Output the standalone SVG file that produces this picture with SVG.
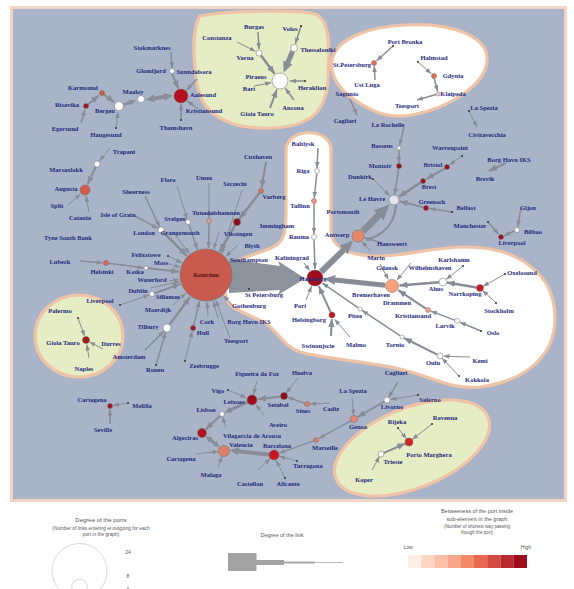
<svg xmlns="http://www.w3.org/2000/svg" width="574" height="589" viewBox="0 0 574 589">
<style>
.e{stroke:#878c96;fill:none}
.ma{marker-end:url(#a)}.mb{marker-end:url(#b)}.mc{marker-end:url(#c)}
.n{stroke:#6a6a6a;stroke-width:.5}
.w{fill:#ffffff}
.d{fill:#333}
.t{font-family:"Liberation Serif",serif;font-size:6.5px;font-weight:bold;fill:#1f2b80;text-anchor:middle}
.reg{stroke:#efc4a6;stroke-width:3.2}
.lg{font-family:"Liberation Sans",Arial,sans-serif;fill:#555;text-anchor:middle}
</style>
<defs>
<marker id="a" markerUnits="userSpaceOnUse" markerWidth="6" markerHeight="5" refX="6" refY="2.3" orient="auto"><path d="M0,0L6,2.3L0,4.6z" fill="#878c96"/></marker>
<marker id="b" markerUnits="userSpaceOnUse" markerWidth="8" markerHeight="7" refX="8" refY="3.2" orient="auto"><path d="M0,0L8,3.2L0,6.4z" fill="#878c96"/></marker>
<marker id="c" markerUnits="strokeWidth" markerWidth="2.3" markerHeight="2" refX="0.05" refY="1" orient="auto-start-reverse"><path d="M0,0L2.2,1L0,2z" fill="#878c96"/></marker>
</defs>
<rect x="0" y="0" width="574" height="589" fill="#ffffff"/>
<rect x="11.5" y="7.5" width="554" height="493" fill="#a9b4c8" stroke="#f2d5c4" stroke-width="3"/>
<g id="regions">
<path class="reg" fill="#e6ecc4" d="M200,16 C230,10 300,10 315,14 C330,20 330,45 328,80 C326,112 310,127 270,128 C240,129 218,122 205,105 C193,88 190,30 200,16 Z"/>
<path class="reg" fill="#ffffff" d="M332,60 C336,40 365,27 405,25 C455,22 490,38 487,62 C484,85 450,108 412,115 C385,120 365,108 348,95 C336,85 330,72 332,60 Z"/>
<path class="reg" fill="#ffffff" d="M286,150 C286,128 331,126 331,150 L331,230 C331,245 345,254 370,256 C400,258 430,247 465,247 C520,247 556,275 555,320 C554,360 520,382 480,387 C450,390 430,376 400,369 C370,362 320,358 300,352 C285,347 280,335 268,325 C255,316 235,312 228,302 C222,292 225,270 236,262 C248,254 268,252 278,244 C286,237 286,225 286,210 Z"/>
<ellipse class="reg" fill="#e6ecc4" cx="79" cy="336" rx="44" ry="41"/>
<ellipse class="reg" fill="#e6ecc4" cx="412" cy="448" rx="82" ry="40" transform="rotate(-22 412 448)"/>
</g>
<g id="connectors">
<line x1="171" y1="52" x2="172" y2="68" class="e ma" stroke-width="1.5"/>
<line x1="172" y1="73.5" x2="178.3" y2="88.5" class="e mb" stroke-width="2"/>
<line x1="197" y1="79" x2="186.5" y2="90.2" class="e ma" stroke-width="1.5"/>
<line x1="198" y1="109" x2="187.2" y2="101" class="e ma" stroke-width="1.5"/>
<line x1="181" y1="120" x2="181" y2="104" class="e ma" stroke-width="1.5"/>
<line x1="154.3" y1="98.4" x2="164.2" y2="96.8" class="e" stroke-width="4" marker-start="url(#c)" marker-end="url(#c)"/>
<line x1="123.3" y1="104.6" x2="129.9" y2="102.5" class="e mc" stroke-width="3"/>
<line x1="102" y1="93" x2="114.3" y2="102.3" class="e mb" stroke-width="2"/>
<line x1="86" y1="106" x2="98.9" y2="95.5" class="e mb" stroke-width="2"/>
<line x1="81" y1="123" x2="84.8" y2="109.8" class="e ma" stroke-width="1.5"/>
<line x1="116" y1="128" x2="118" y2="112" class="e ma" stroke-width="1"/>
<line x1="110" y1="148" x2="99.5" y2="160.9" class="e ma" stroke-width="1"/>
<line x1="95.7" y1="166.8" x2="87.5" y2="184.5" class="e mb" stroke-width="2"/>
<line x1="68" y1="205" x2="80.5" y2="194" class="e ma" stroke-width="1"/>
<line x1="89" y1="212" x2="86.1" y2="196" class="e ma" stroke-width="1"/>
<line x1="258" y1="32" x2="259" y2="49" class="e ma" stroke-width="1.5"/>
<line x1="237" y1="42" x2="255.4" y2="51.2" class="e ma" stroke-width="1"/>
<line x1="261" y1="55.5" x2="274.6" y2="73.8" class="e mb" stroke-width="2.5"/>
<line x1="301" y1="26" x2="295.4" y2="43.7" class="e ma" stroke-width="1.5"/>
<line x1="292.6" y1="51.3" x2="287.8" y2="62.6" class="e mc" stroke-width="5"/>
<line x1="254" y1="86" x2="271.2" y2="82.7" class="e ma" stroke-width="1"/>
<line x1="305" y1="81" x2="290" y2="81" class="e ma" stroke-width="1.5"/>
<line x1="270" y1="108" x2="276.9" y2="89.5" class="e mb" stroke-width="2"/>
<line x1="294" y1="100" x2="285.3" y2="88.3" class="e ma" stroke-width="1.5"/>
<line x1="393" y1="46" x2="376.6" y2="60.7" class="e ma" stroke-width="1.5"/>
<line x1="375" y1="80" x2="374.3" y2="66" class="e ma" stroke-width="1.5"/>
<line x1="418" y1="62" x2="431.4" y2="73.7" class="e ma" stroke-width="1"/>
<line x1="434.3" y1="78.5" x2="437.6" y2="91.5" class="e ma" stroke-width="1.5"/>
<line x1="436" y1="94.5" x2="417" y2="100" class="e ma" stroke-width="1.5"/>
<line x1="350" y1="99" x2="357" y2="115" class="e ma" stroke-width="1.5"/>
<line x1="469" y1="111" x2="477" y2="127" class="e ma" stroke-width="1"/>
<line x1="404" y1="127" x2="399.5" y2="145.5" class="e ma" stroke-width="1.5"/>
<line x1="399" y1="150" x2="399" y2="163" class="e ma" stroke-width="1.5"/>
<line x1="398.6" y1="168.5" x2="394.7" y2="194.5" class="e ma" stroke-width="1.5"/>
<line x1="373" y1="179" x2="389.7" y2="195.7" class="e ma" stroke-width="1"/>
<line x1="462" y1="156" x2="449.5" y2="165" class="e ma" stroke-width="1"/>
<line x1="444.8" y1="168.3" x2="426" y2="179.2" class="e mb" stroke-width="2"/>
<line x1="420.9" y1="182.4" x2="399" y2="196.7" class="e mb" stroke-width="2.5"/>
<line x1="452" y1="212" x2="429.5" y2="208.5" class="e ma" stroke-width="1.5"/>
<line x1="423.6" y1="207.4" x2="399.8" y2="201.4" class="e mb" stroke-width="2"/>
<path d="M396,205 Q394,232 366,240" class="e" stroke-width="2"/>
<line x1="362.6" y1="231.4" x2="378.8" y2="215.2" class="e mc" stroke-width="7"/>
<line x1="321" y1="272" x2="343.8" y2="249.8" class="e mc" stroke-width="6"/>
<line x1="382" y1="243" x2="364.3" y2="237.8" class="e ma" stroke-width="1.5"/>
<line x1="370" y1="251" x2="362" y2="241" class="e ma" stroke-width="1"/>
<line x1="506" y1="163" x2="489" y2="171" class="e mb" stroke-width="2"/>
<line x1="521" y1="208" x2="517.7" y2="226.5" class="e ma" stroke-width="1.5"/>
<line x1="514.5" y1="231" x2="504" y2="235.7" class="e ma" stroke-width="1.5"/>
<line x1="488" y1="222" x2="498.7" y2="234.3" class="e ma" stroke-width="1.5"/>
<line x1="145" y1="196" x2="159.7" y2="227.3" class="e ma" stroke-width="1.5"/>
<line x1="135" y1="216" x2="157.9" y2="228.4" class="e ma" stroke-width="1.5"/>
<line x1="163" y1="232" x2="186.8" y2="255.8" class="e mb" stroke-width="2.5"/>
<line x1="177" y1="186" x2="187.1" y2="219.1" class="e ma" stroke-width="1"/>
<line x1="189" y1="224.5" x2="197.4" y2="249.4" class="e ma" stroke-width="1.5"/>
<line x1="209" y1="183" x2="209" y2="218.5" class="e ma" stroke-width="1"/>
<line x1="209" y1="223.5" x2="208.5" y2="248" class="e ma" stroke-width="1.5"/>
<line x1="242" y1="190" x2="221.5" y2="254" class="e ma" stroke-width="1"/>
<line x1="266" y1="162" x2="261.5" y2="188" class="e mb" stroke-width="2"/>
<line x1="259.5" y1="193" x2="239.4" y2="218.8" class="e mb" stroke-width="2.5"/>
<line x1="235.2" y1="225" x2="219.5" y2="251.8" class="e mb" stroke-width="2.5"/>
<line x1="219" y1="232" x2="213.8" y2="249.1" class="e ma" stroke-width="1"/>
<line x1="238" y1="245" x2="225.7" y2="256.6" class="e ma" stroke-width="1"/>
<line x1="176" y1="236" x2="189.5" y2="253.7" class="e ma" stroke-width="1"/>
<line x1="80" y1="261" x2="102.5" y2="262.7" class="e ma" stroke-width="1.5"/>
<line x1="108.5" y1="263.3" x2="143.5" y2="267.7" class="e ma" stroke-width="1.5"/>
<line x1="148" y1="268.2" x2="179.3" y2="271.8" class="e mb" stroke-width="2"/>
<line x1="168" y1="256" x2="182" y2="262.9" class="e ma" stroke-width="1"/>
<line x1="169" y1="264" x2="180.1" y2="267.2" class="e ma" stroke-width="1"/>
<line x1="169" y1="281" x2="179.3" y2="279.3" class="e ma" stroke-width="1"/>
<line x1="150" y1="288" x2="179.8" y2="281.5" class="e ma" stroke-width="1"/>
<line x1="120" y1="305" x2="149.2" y2="295" class="e ma" stroke-width="1"/>
<line x1="154.4" y1="293.2" x2="180.6" y2="283.9" class="e mb" stroke-width="2"/>
<line x1="172" y1="306" x2="186" y2="293.1" class="e ma" stroke-width="1"/>
<line x1="145" y1="350" x2="163.8" y2="331.2" class="e ma" stroke-width="1.5"/>
<line x1="156" y1="365" x2="165.7" y2="332.3" class="e ma" stroke-width="1.5"/>
<line x1="169.4" y1="324.8" x2="190.1" y2="296.9" class="e mb" stroke-width="2.5"/>
<line x1="185" y1="361" x2="192.3" y2="331.3" class="e ma" stroke-width="1"/>
<line x1="193.6" y1="325.6" x2="199.5" y2="301.2" class="e ma" stroke-width="1.5"/>
<line x1="208" y1="316" x2="207" y2="302" class="e ma" stroke-width="1"/>
<line x1="218" y1="318" x2="213.3" y2="301" class="e ma" stroke-width="1"/>
<line x1="230" y1="338" x2="215.7" y2="300.2" class="e ma" stroke-width="1"/>
<line x1="232" y1="305" x2="223.6" y2="295.5" class="e ma" stroke-width="1"/>
<line x1="249" y1="289" x2="231.6" y2="283.4" class="e ma" stroke-width="1"/>
<path d="M229,259 L280,266 L278,261 L305,278.5 L278,295 L280,290 L229,293 Z" fill="#8d939c"/>
<line x1="318" y1="148" x2="317" y2="168" class="e ma" stroke-width="1.5"/>
<line x1="316.8" y1="174" x2="314.2" y2="198" class="e ma" stroke-width="1.5"/>
<line x1="314" y1="204" x2="314" y2="234" class="e ma" stroke-width="1.5"/>
<line x1="314" y1="240" x2="315" y2="269" class="e ma" stroke-width="1.5"/>
<line x1="304" y1="263" x2="309.7" y2="270.7" class="e ma" stroke-width="1"/>
<line x1="306" y1="300" x2="311.6" y2="286.3" class="e ma" stroke-width="1"/>
<line x1="330.7" y1="312.3" x2="318.8" y2="286.2" class="e mb" stroke-width="2"/>
<line x1="331" y1="336" x2="331.8" y2="319" class="e mb" stroke-width="2"/>
<line x1="350" y1="337" x2="334.5" y2="319.3" class="e ma" stroke-width="1"/>
<line x1="400" y1="335.6" x2="362" y2="310.3" class="e ma" stroke-width="1.5"/>
<line x1="358" y1="307.6" x2="322.4" y2="283.1" class="e ma" stroke-width="1.5"/>
<line x1="437.3" y1="354.7" x2="404" y2="338" class="e mb" stroke-width="2"/>
<line x1="470" y1="357" x2="443.5" y2="356.2" class="e ma" stroke-width="1"/>
<line x1="459" y1="376" x2="442.1" y2="358.2" class="e ma" stroke-width="1"/>
<line x1="481" y1="331" x2="460" y2="322.3" class="e ma" stroke-width="1.5"/>
<line x1="454.7" y1="320.1" x2="430.8" y2="311.1" class="e ma" stroke-width="1.5"/>
<line x1="425.9" y1="308.6" x2="398.2" y2="290.1" class="e mb" stroke-width="2"/>
<line x1="439" y1="282.3" x2="399.5" y2="285.4" class="e mb" stroke-width="2.5"/>
<line x1="476.5" y1="287.4" x2="447" y2="282.5" class="e mb" stroke-width="2.5"/>
<line x1="463" y1="266" x2="446.1" y2="279.5" class="e ma" stroke-width="1"/>
<line x1="505" y1="274" x2="483" y2="286.3" class="e ma" stroke-width="1"/>
<line x1="496" y1="303" x2="482.6" y2="290.4" class="e ma" stroke-width="1"/>
<line x1="411" y1="263" x2="396.8" y2="280.2" class="e ma" stroke-width="1"/>
<line x1="380" y1="264" x2="388.4" y2="279.4" class="e ma" stroke-width="1"/>
<line x1="385" y1="285.3" x2="334.9" y2="280" class="e mc" stroke-width="5"/>
<line x1="78" y1="318" x2="84.6" y2="336.2" class="e ma" stroke-width="1"/>
<line x1="89" y1="358" x2="86.8" y2="344.5" class="e ma" stroke-width="1"/>
<line x1="103" y1="349" x2="89.5" y2="341.9" class="e ma" stroke-width="1"/>
<line x1="128" y1="403" x2="113" y2="405.5" class="e ma" stroke-width="1"/>
<line x1="110" y1="424" x2="110" y2="409.5" class="e ma" stroke-width="1.5"/>
<line x1="257" y1="381" x2="253.3" y2="394.8" class="e ma" stroke-width="1"/>
<line x1="228" y1="390" x2="246.5" y2="397.7" class="e ma" stroke-width="1"/>
<line x1="264" y1="415" x2="255.7" y2="404.7" class="e ma" stroke-width="1"/>
<line x1="280.5" y1="396.4" x2="258" y2="399.3" class="e mb" stroke-width="2"/>
<line x1="298" y1="378" x2="286.1" y2="393.2" class="e ma" stroke-width="1"/>
<line x1="304.6" y1="403.2" x2="287.3" y2="397.1" class="e ma" stroke-width="1.5"/>
<line x1="330" y1="403" x2="310" y2="404" class="e ma" stroke-width="1"/>
<line x1="247.5" y1="402.1" x2="230.7" y2="409.9" class="e mc" stroke-width="3"/>
<line x1="220.2" y1="415.7" x2="205.6" y2="429.5" class="e mb" stroke-width="2"/>
<line x1="226" y1="428" x2="222.5" y2="417" class="e ma" stroke-width="1"/>
<line x1="210.6" y1="440" x2="214.7" y2="443.3" class="e" stroke-width="3" marker-start="url(#c)" marker-end="url(#c)"/>
<line x1="196" y1="454" x2="218.5" y2="451.5" class="e ma" stroke-width="1"/>
<line x1="218" y1="468" x2="222" y2="456.3" class="e ma" stroke-width="1"/>
<line x1="269" y1="454.6" x2="238.3" y2="451.2" class="e mc" stroke-width="4"/>
<line x1="258" y1="470" x2="270.3" y2="458.4" class="e ma" stroke-width="1"/>
<line x1="285" y1="478" x2="276.2" y2="460.4" class="e ma" stroke-width="1"/>
<line x1="297" y1="461" x2="279.3" y2="456.4" class="e ma" stroke-width="1"/>
<line x1="313.6" y1="440.9" x2="279.2" y2="453.1" class="e ma" stroke-width="1.5"/>
<line x1="351" y1="420.7" x2="319" y2="438.4" class="e ma" stroke-width="1.5"/>
<line x1="384.4" y1="401.5" x2="357.6" y2="417.1" class="e mb" stroke-width="2"/>
<line x1="352" y1="398" x2="353.7" y2="415.5" class="e ma" stroke-width="1"/>
<line x1="398" y1="382" x2="388.6" y2="397.4" class="e ma" stroke-width="1.5"/>
<line x1="418" y1="395" x2="390.5" y2="399.5" class="e ma" stroke-width="1"/>
<line x1="398" y1="428" x2="406.5" y2="438.8" class="e ma" stroke-width="1"/>
<line x1="432" y1="424" x2="412.2" y2="439.5" class="e ma" stroke-width="1"/>
<line x1="383.8" y1="452.8" x2="405.3" y2="443.6" class="e mb" stroke-width="2"/>
<line x1="372" y1="470" x2="379.5" y2="456.6" class="e ma" stroke-width="1"/>
</g>
<g id="nodes">
<g id="n-stokmarknes"><text class="t" x="152" y="50">Stokmarknes</text></g>
<g id="n-glomfjord"><circle class="n w" cx="172" cy="71" r="2.5"/><text class="t" x="151" y="73">Glomfjord</text></g>
<g id="n-sunndalsora"><text class="t" x="194" y="74">Sunndalsora</text></g>
<g id="n-aalesund"><circle class="n" cx="181" cy="96" r="7" fill="#b3121d"/><text class="t" x="203" y="97">Aalesund</text></g>
<g id="n-kristiansund"><text class="t" x="204" y="113">Kristiansund</text></g>
<g id="n-thamshavn"><circle class="d" cx="181" cy="120" r="1"/><text class="t" x="176" y="130">Thamshavn</text></g>
<g id="n-maaloy"><circle class="n w" cx="141" cy="99" r="3.5"/><text class="t" x="133" y="94">Maaloy</text></g>
<g id="n-bergen"><circle class="n w" cx="119" cy="106" r="4.5"/><text class="t" x="105" y="113">Bergen</text></g>
<g id="n-karmsund"><circle class="n" cx="102" cy="93" r="2.5" fill="#d25a46"/><text class="t" x="83" y="90">Karmsund</text></g>
<g id="n-risavika"><circle class="n" cx="86" cy="106" r="2.5" fill="#a01520"/><text class="t" x="67" y="107">Risavika</text></g>
<g id="n-egersund"><text class="t" x="65" y="131">Egersund</text></g>
<g id="n-haugesund"><circle class="d" cx="116" cy="128" r="1"/><text class="t" x="106" y="137">Haugesund</text></g>
<g id="n-trapani"><text class="t" x="124" y="154">Trapani</text></g>
<g id="n-marsaxlokk"><circle class="n w" cx="97" cy="164" r="3"/><text class="t" x="66" y="172">Marsaxlokk</text></g>
<g id="n-augusta"><circle class="n" cx="85" cy="190" r="5" fill="#d55a48"/><text class="t" x="66" y="191">Augusta</text></g>
<g id="n-split"><text class="t" x="57" y="208">Split</text></g>
<g id="n-catania"><text class="t" x="80" y="220">Catania</text></g>
<g id="n-burgas"><text class="t" x="254" y="29">Burgas</text></g>
<g id="n-volos"><circle class="d" cx="301" cy="26" r="1" fill="#7a1010"/><text class="t" x="290" y="31">Volos</text></g>
<g id="n-constanza"><text class="t" x="217" y="40">Constanza</text></g>
<g id="n-varna"><circle class="n w" cx="259" cy="53" r="3"/><text class="t" x="245" y="60">Varna</text></g>
<g id="n-thessaloniki"><circle class="n w" cx="294" cy="48" r="3.5"/><text class="t" x="318" y="52">Thessaloniki</text></g>
<g id="n-piraeus"><circle class="n w" cx="280" cy="81" r="8"/><text class="t" x="256" y="79">Piraeus</text></g>
<g id="n-bari"><text class="t" x="249" y="91">Bari</text></g>
<g id="n-heraklion"><circle class="d" cx="305" cy="81" r="1" fill="#7a4a10"/><text class="t" x="312" y="90">Heraklion</text></g>
<g id="n-ancona"><text class="t" x="293" y="110">Ancona</text></g>
<g id="n-gioiatauro1"><text class="t" x="257" y="116">Gioia Tauro</text></g>
<g id="n-portbronka"><circle class="d" cx="393" cy="46" r="1"/><text class="t" x="405" y="44">Port Bronka</text></g>
<g id="n-stpetersburg1"><circle class="n" cx="374" cy="63" r="2.5" fill="#e3704f"/><text class="t" x="352" y="67">St.Petersburg</text></g>
<g id="n-ustluga"><text class="t" x="367" y="87">Ust  Luga</text></g>
<g id="n-halmstad"><circle class="d" cx="418" cy="62" r="1"/><text class="t" x="434" y="60">Halmstad</text></g>
<g id="n-gdynia"><circle class="n" cx="434" cy="76" r="2.5" fill="#e26a4c"/><text class="t" x="453" y="78">Gdynia</text></g>
<g id="n-klaipeda"><circle class="n" cx="438" cy="94" r="2" fill="#f6d8c6"/><text class="t" x="453" y="96">Klaipeda</text></g>
<g id="n-teesport1"><text class="t" x="407" y="108">Teesport</text></g>
<g id="n-sagunto"><text class="t" x="347" y="96">Sagunto</text></g>
<g id="n-cagliari1"><text class="t" x="345" y="123">Cagliari</text></g>
<g id="n-laspezia1"><circle class="d" cx="469" cy="111" r="1"/><text class="t" x="484" y="110">La Spezia</text></g>
<g id="n-civitavecchia"><text class="t" x="487" y="137">Civitavecchia</text></g>
<g id="n-larochelle"><text class="t" x="388" y="127">La Rochelle</text></g>
<g id="n-bassens"><circle class="n w" cx="399" cy="148" r="2"/><text class="t" x="382" y="148">Bassens</text></g>
<g id="n-montoir"><circle class="n" cx="399" cy="166" r="2.5" fill="#8f0d1a"/><text class="t" x="380" y="168">Montoir</text></g>
<g id="n-dunkirk"><circle class="d" cx="373" cy="179" r="1"/><text class="t" x="360" y="179">Dunkirk</text></g>
<g id="n-warrenpoint"><circle class="d" cx="462" cy="156" r="1"/><text class="t" x="450" y="150">Warrenpoint</text></g>
<g id="n-bristol"><circle class="n" cx="447" cy="167" r="2.5" fill="#9a0f1b"/><text class="t" x="433" y="167">Bristol</text></g>
<g id="n-brest"><circle class="n" cx="423" cy="181" r="2.5" fill="#9a0f1b"/><text class="t" x="429" y="189">Brest</text></g>
<g id="n-greenock"><circle class="n" cx="426" cy="208" r="2.5" fill="#9a0f1b"/><text class="t" x="432" y="204">Greenock</text></g>
<g id="n-belfast"><circle class="d" cx="452" cy="212" r="1"/><text class="t" x="466" y="210">Belfast</text></g>
<g id="n-lehavre"><circle class="n" cx="394" cy="200" r="5" fill="#e2e4ea"/><text class="t" x="372" y="201">Le Havre</text></g>
<g id="n-portsmouth"><text class="t" x="343" y="214" fill="#5a1840">Portsmouth</text></g>
<g id="n-antwerp"><circle class="n" cx="358" cy="236" r="6" fill="#e8866a"/><text class="t" x="337" y="237">Antwerp</text></g>
<g id="n-hansweert"><text class="t" x="392" y="246">Hansweert</text></g>
<g id="n-marin"><text class="t" x="376" y="260">Marin</text></g>
<g id="n-borghavn2"><text class="t" x="509" y="162">Borg Havn IKS</text></g>
<g id="n-brevik"><text class="t" x="485" y="181">Brevik</text></g>
<g id="n-gijon"><text class="t" x="528" y="210">Gijon</text></g>
<g id="n-manchester"><circle class="d" cx="488" cy="222" r="1"/><text class="t" x="470" y="228">Manchester</text></g>
<g id="n-bilbao"><circle class="n w" cx="517" cy="230" r="2.5"/><text class="t" x="533" y="234">Bilbao</text></g>
<g id="n-liverpool2"><circle class="n" cx="501" cy="237" r="2.5" fill="#9a0f1b"/><text class="t" x="512" y="245">Liverpool</text></g>
<g id="n-cuxhaven"><text class="t" x="258" y="159">Cuxhaven</text></g>
<g id="n-sheerness"><text class="t" x="136" y="194">Sheerness</text></g>
<g id="n-floro"><text class="t" x="168" y="182">Floro</text></g>
<g id="n-umea"><text class="t" x="204" y="180">Umea</text></g>
<g id="n-szczecin"><text class="t" x="235" y="186">Szczecin</text></g>
<g id="n-isleofgrain"><text class="t" x="118" y="217">Isle of Grain</text></g>
<g id="n-svelgen"><circle class="n w" cx="188" cy="222" r="2.5"/><text class="t" x="175" y="221">Svelgen</text></g>
<g id="n-tunadal"><circle class="n" cx="209" cy="221" r="2.5" fill="#d4a29d"/><text class="t" x="216" y="215">Tunadalshamnen</text></g>
<g id="n-varberg"><circle class="n" cx="261" cy="191" r="2.5" fill="#e0735a"/><text class="t" x="274" y="199">Varberg</text></g>
<g id="n-immingham"><circle class="n" cx="237" cy="222" r="3.5" fill="#8e0c1a"/><text class="t" x="277" y="228">Immingham</text></g>
<g id="n-london"><circle class="n w" cx="161" cy="230" r="3"/><text class="t" x="144" y="235">London</text></g>
<g id="n-grangemouth"><text class="t" x="180" y="235">Grangemouth</text></g>
<g id="n-vlissingen"><text class="t" x="238" y="236">Vlissingen</text></g>
<g id="n-blyth"><text class="t" x="252" y="248">Blyth</text></g>
<g id="n-southampton"><text class="t" x="249" y="262">Southampton</text></g>
<g id="n-tynesouthbank"><text class="t" x="68" y="240">Tyne South Bank</text></g>
<g id="n-lubeck"><text class="t" x="60" y="264">Lubeck</text></g>
<g id="n-helsinki"><circle class="n" cx="106" cy="263" r="2.5" fill="#e06450"/><text class="t" x="102" y="274">Helsinki</text></g>
<g id="n-felixstowe"><circle class="d" cx="168" cy="256" r="1"/><text class="t" x="146" y="257">Felixstowe</text></g>
<g id="n-moss"><text class="t" x="161" y="265">Moss</text></g>
<g id="n-kotka"><circle class="n w" cx="146" cy="268" r="2"/><text class="t" x="135" y="274">Kotka</text></g>
<g id="n-waterford"><text class="t" x="152" y="282">Waterford</text></g>
<g id="n-dublin"><text class="t" x="138" y="293">Dublin</text></g>
<g id="n-sillamae"><circle class="n w" cx="152" cy="294" r="2.5"/><text class="t" x="168" y="299">Sillamae</text></g>
<g id="n-liverpool1"><circle class="d" cx="120" cy="305" r="1"/><text class="t" x="100" y="303">Liverpool</text></g>
<g id="n-moerdijk"><text class="t" x="158" y="312">Moerdijk</text></g>
<g id="n-tilbury"><circle class="n w" cx="167" cy="328" r="4"/><text class="t" x="148" y="329">Tilbury</text></g>
<g id="n-amsterdam"><text class="t" x="129" y="359">Amsterdam</text></g>
<g id="n-rouen"><circle class="d" cx="156" cy="365" r="1"/><text class="t" x="155" y="372">Rouen</text></g>
<g id="n-hull"><circle class="n" cx="193" cy="328" r="2.5" fill="#a8101f"/><text class="t" x="203" y="335">Hull</text></g>
<g id="n-cork"><text class="t" x="207" y="324">Cork</text></g>
<g id="n-borghavn1"><text class="t" x="249" y="324">Borg Havn IKS</text></g>
<g id="n-teesport2"><text class="t" x="236" y="343">Teesport</text></g>
<g id="n-zeebrugge"><circle class="d" cx="185" cy="361" r="1"/><text class="t" x="204" y="368">Zeebrugge</text></g>
<g id="n-stpetersburg2"><circle class="d" cx="249" cy="289" r="1"/><text class="t" x="264" y="297">St Petersburg</text></g>
<g id="n-gothenburg"><text class="t" x="249" y="308">Gothenburg</text></g>
<g id="n-rotterdam"><circle class="n" cx="206" cy="275" r="26" fill="#c85a4e"/><text x="206" y="277" font-family="Liberation Serif,serif" font-size="5.5" font-weight="bold" fill="#5a0d12" text-anchor="middle">Rotterdam</text></g>
<g id="n-baltiysk"><text class="t" x="303" y="146">Baltiysk</text></g>
<g id="n-riga"><circle class="n w" cx="317" cy="171" r="2.5"/><text class="t" x="303" y="173">Riga</text></g>
<g id="n-tallinn"><circle class="n" cx="314" cy="201" r="2.5" fill="#ee9680"/><text class="t" x="300" y="208">Tallinn</text></g>
<g id="n-rauma"><circle class="n w" cx="314" cy="237" r="2.5"/><text class="t" x="299" y="239">Rauma</text></g>
<g id="n-kaliningrad"><text class="t" x="292" y="260">Kaliningrad</text></g>
<g id="n-hamburg"><circle class="n" cx="315" cy="278" r="8" fill="#a10b1c"/><text class="t" x="313" y="281">Hamburg</text></g>
<g id="n-pori"><text class="t" x="300" y="308">Pori</text></g>
<g id="n-helsingborg"><circle class="n" cx="332" cy="315" r="3" fill="#c8161e"/><text class="t" x="309" y="322">Helsingborg</text></g>
<g id="n-pitea"><circle class="n w" cx="360" cy="309" r="2"/><text class="t" x="355" y="318">Pitea</text></g>
<g id="n-swinoujscie"><text class="t" x="318" y="348">Swinoujscie</text></g>
<g id="n-malmo"><text class="t" x="356" y="347">Malmo</text></g>
<g id="n-tornio"><circle class="n w" cx="402" cy="337" r="2"/><text class="t" x="395" y="347">Tornio</text></g>
<g id="n-oulu"><circle class="n w" cx="440" cy="356" r="3"/><text class="t" x="433" y="365">Oulu</text></g>
<g id="n-kemi"><text class="t" x="480" y="363">Kemi</text></g>
<g id="n-kokkola"><circle class="d" cx="459" cy="376" r="1"/><text class="t" x="477" y="382">Kokkola</text></g>
<g id="n-larvik"><circle class="n w" cx="457" cy="321" r="2.5"/><text class="t" x="445" y="328">Larvik</text></g>
<g id="n-oslo"><circle class="d" cx="481" cy="331" r="1"/><text class="t" x="493" y="335">Oslo</text></g>
<g id="n-kristiansand"><circle class="n" cx="428" cy="310" r="2.5" fill="#f2a58c"/><text class="t" x="413" y="318">Kristiansand</text></g>
<g id="n-drammen"><text class="t" x="397" y="305">Drammen</text></g>
<g id="n-bremerhaven"><circle class="n" cx="392" cy="286" r="6.5" fill="#fba27a"/><text class="t" x="371" y="297">Bremerhaven</text></g>
<g id="n-gdansk"><text class="t" x="387" y="270">Gdansk</text></g>
<g id="n-wilhelmshaven"><text class="t" x="430" y="270">Wilhelmshaven</text></g>
<g id="n-karlshamn"><circle class="d" cx="463" cy="266" r="1"/><text class="t" x="454" y="262">Karlshamn</text></g>
<g id="n-ahus"><circle class="n w" cx="443" cy="282" r="4"/><text class="t" x="436" y="291">Ahus</text></g>
<g id="n-norrkoping"><circle class="n" cx="480" cy="288" r="3.5" fill="#c8161e"/><text class="t" x="465" y="296">Norrkoping</text></g>
<g id="n-oxelosund"><circle class="d" cx="505" cy="274" r="1"/><text class="t" x="522" y="275">Oxelosund</text></g>
<g id="n-stockholm"><circle class="d" cx="496" cy="303" r="1"/><text class="t" x="499" y="313">Stockholm</text></g>
<g id="n-palermo"><circle class="d" cx="78" cy="318" r="1"/><text class="t" x="60" y="313">Palermo</text></g>
<g id="n-gioiatauro2"><circle class="n" cx="86" cy="340" r="3.5" fill="#9c1a0e"/><text class="t" x="63" y="345">Gioia Tauro</text></g>
<g id="n-durres"><text class="t" x="111" y="346">Durres</text></g>
<g id="n-naples"><text class="t" x="84" y="371">Naples</text></g>
<g id="n-cartagena1"><circle class="n" cx="110" cy="406" r="2.5" fill="#a01422"/><text class="t" x="92" y="402">Cartagena</text></g>
<g id="n-melilla"><circle class="d" cx="128" cy="403" r="1"/><text class="t" x="142" y="408">Melilla</text></g>
<g id="n-seville"><text class="t" x="103" y="432">Seville</text></g>
<g id="n-figueira"><text class="t" x="257" y="376">Figueira da Foz</text></g>
<g id="n-huelva"><text class="t" x="302" y="375">Huelva</text></g>
<g id="n-vigo"><circle class="d" cx="228" cy="390" r="1"/><text class="t" x="218" y="393">Vigo</text></g>
<g id="n-leixoes"><circle class="n" cx="252" cy="400" r="5" fill="#a00c1b"/><text class="t" x="234" y="404">Leixoes</text></g>
<g id="n-setubal"><circle class="n" cx="284" cy="396" r="3.5" fill="#8c0b1a"/><text class="t" x="278" y="407">Setubal</text></g>
<g id="n-sines"><circle class="n" cx="307" cy="404" r="2.5" fill="#e07f6b"/><text class="t" x="303" y="413">Sines</text></g>
<g id="n-cadiz"><text class="t" x="331" y="411">Cadiz</text></g>
<g id="n-lisbon"><circle class="n w" cx="222" cy="414" r="2.5"/><text class="t" x="206" y="412">Lisbon</text></g>
<g id="n-aveiro"><text class="t" x="278" y="427">Aveiro</text></g>
<g id="n-algeciras"><circle class="n" cx="202" cy="433" r="4.5" fill="#b0141f"/><text class="t" x="185" y="440">Algeciras</text></g>
<g id="n-vilagarcia"><text class="t" x="252" y="438">Vilagarcia de Arousa</text></g>
<g id="n-valencia"><circle class="n" cx="224" cy="451" r="5.5" fill="#e08068"/><text class="t" x="241" y="447">Valencia</text></g>
<g id="n-barcelona"><circle class="n" cx="274" cy="455" r="5" fill="#c8161e"/><text class="t" x="277" y="448">Barcelona</text></g>
<g id="n-cartagena2"><text class="t" x="181" y="461">Cartagena</text></g>
<g id="n-malaga"><text class="t" x="211" y="477">Malaga</text></g>
<g id="n-tarragona"><circle class="d" cx="297" cy="461" r="1"/><text class="t" x="308" y="468">Tarragona</text></g>
<g id="n-castellon"><text class="t" x="250" y="486">Castellon</text></g>
<g id="n-alicante"><circle class="d" cx="285" cy="478" r="1"/><text class="t" x="288" y="486">Alicante</text></g>
<g id="n-marseille"><circle class="n" cx="316" cy="440" r="2.5" fill="#e08068"/><text class="t" x="325" y="450">Marseille</text></g>
<g id="n-genoa"><circle class="n" cx="354" cy="419" r="3.5" fill="#e58670"/><text class="t" x="358" y="429">Genoa</text></g>
<g id="n-laspezia2"><text class="t" x="353" y="393">La Spezia</text></g>
<g id="n-livorno"><circle class="n w" cx="387" cy="400" r="3"/><text class="t" x="392" y="409">Livorno</text></g>
<g id="n-cagliari2"><text class="t" x="396" y="375">Cagliari</text></g>
<g id="n-salerno"><circle class="d" cx="418" cy="395" r="1"/><text class="t" x="430" y="402">Salerno</text></g>
<g id="n-rijeka"><circle class="d" cx="398" cy="428" r="1"/><text class="t" x="397" y="424">Rijeka</text></g>
<g id="n-ravenna"><circle class="d" cx="432" cy="424" r="1"/><text class="t" x="445" y="420">Ravenna</text></g>
<g id="n-portomarghera"><circle class="n" cx="409" cy="442" r="4" fill="#d4281e"/><text class="t" x="429" y="457">Porto Marghera</text></g>
<g id="n-trieste"><circle class="n w" cx="381" cy="454" r="3"/><text class="t" x="393" y="464">Trieste</text></g>
<g id="n-koper"><text class="t" x="364" y="482">Koper</text></g>
</g>
<g id="legend">
<text class="lg" x="101" y="522" font-size="6">Degree of the ports</text>
<text class="lg" x="101" y="529.5" font-size="4.8">(Number of links entering et outgoing for each</text>
<text class="lg" x="101" y="536" font-size="4.8">port in the graph)</text>
<circle cx="79.5" cy="571" r="27.5" fill="none" stroke="#bdbdbd" stroke-width="0.6"/>
<circle cx="79.5" cy="587" r="7.8" fill="none" stroke="#bdbdbd" stroke-width="0.6"/>
<text class="lg" x="128" y="554" font-size="5">24</text>
<text class="lg" x="128" y="578" font-size="5">8</text>
<circle cx="128" cy="588" r="0.8" fill="#555"/>
<text class="lg" x="282" y="537" font-size="5.5">Degree of the link</text>
<rect x="228" y="553" width="28.5" height="18" fill="#a3a3a3"/>
<rect x="256" y="560" width="28" height="5" fill="#a3a3a3"/>
<rect x="284" y="561.5" width="31" height="2" fill="#a8a8a8"/>
<rect x="315" y="562" width="28" height="1" fill="#bdbdbd"/>
<text class="lg" x="477" y="513" font-size="5.5">Betweeness of the port inside</text>
<text class="lg" x="477" y="520.5" font-size="5.5">sub-element in the graph</text>
<text class="lg" x="477" y="527.5" font-size="4.5">(Number of shortest way passing</text>
<text class="lg" x="477" y="534" font-size="4.5">though the port)</text>
<text class="lg" x="408" y="549" font-size="5">Low</text>
<text class="lg" x="526" y="549" font-size="5">High</text>
<rect x="408" y="555" width="13.3" height="13" fill="#fdeee6"/>
<rect x="421.2" y="555" width="13.3" height="13" fill="#fcd5c5"/>
<rect x="434.4" y="555" width="13.3" height="13" fill="#fbbfa8"/>
<rect x="447.6" y="555" width="13.3" height="13" fill="#f7a68a"/>
<rect x="460.8" y="555" width="13.3" height="13" fill="#f48a67"/>
<rect x="474" y="555" width="13.3" height="13" fill="#e86850"/>
<rect x="487.2" y="555" width="13.3" height="13" fill="#d24a41"/>
<rect x="500.4" y="555" width="13.3" height="13" fill="#b82a2d"/>
<rect x="513.6" y="555" width="13.4" height="13" fill="#9c0c1c"/>
</g>
</svg>
